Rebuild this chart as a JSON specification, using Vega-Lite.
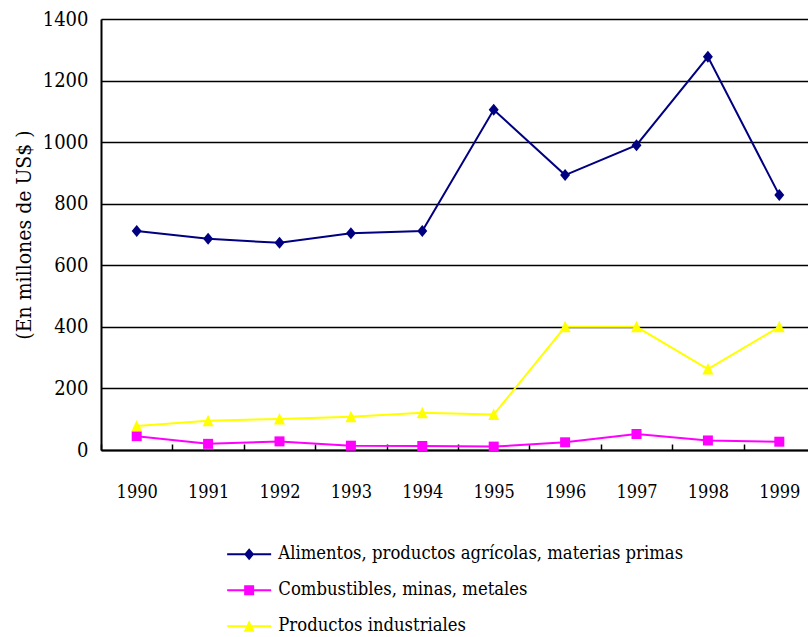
{
  "$schema": "https://vega.github.io/schema/vega-lite/v6.json",
  "width": 707,
  "height": 431,
  "autosize": {"type": "none"},
  "padding": {"left": 101, "top": 19, "right": 0, "bottom": 187},
  "background": "white",
  "config": {"font": "DejaVu Serif Condensed", "view": {"stroke": null}},
  "data": {
    "values": [
      {"year": "1990", "serie": "Alimentos, productos agrícolas, materias primas", "value": 711},
      {"year": "1991", "serie": "Alimentos, productos agrícolas, materias primas", "value": 686},
      {"year": "1992", "serie": "Alimentos, productos agrícolas, materias primas", "value": 673},
      {"year": "1993", "serie": "Alimentos, productos agrícolas, materias primas", "value": 704},
      {"year": "1994", "serie": "Alimentos, productos agrícolas, materias primas", "value": 711},
      {"year": "1995", "serie": "Alimentos, productos agrícolas, materias primas", "value": 1105},
      {"year": "1996", "serie": "Alimentos, productos agrícolas, materias primas", "value": 893},
      {"year": "1997", "serie": "Alimentos, productos agrícolas, materias primas", "value": 990},
      {"year": "1998", "serie": "Alimentos, productos agrícolas, materias primas", "value": 1277},
      {"year": "1999", "serie": "Alimentos, productos agrícolas, materias primas", "value": 828},
      {"year": "1990", "serie": "Combustibles, minas, metales", "value": 45},
      {"year": "1991", "serie": "Combustibles, minas, metales", "value": 20},
      {"year": "1992", "serie": "Combustibles, minas, metales", "value": 28},
      {"year": "1993", "serie": "Combustibles, minas, metales", "value": 14},
      {"year": "1994", "serie": "Combustibles, minas, metales", "value": 13},
      {"year": "1995", "serie": "Combustibles, minas, metales", "value": 11},
      {"year": "1996", "serie": "Combustibles, minas, metales", "value": 25},
      {"year": "1997", "serie": "Combustibles, minas, metales", "value": 52},
      {"year": "1998", "serie": "Combustibles, minas, metales", "value": 31},
      {"year": "1999", "serie": "Combustibles, minas, metales", "value": 27},
      {"year": "1990", "serie": "Productos industriales", "value": 78},
      {"year": "1991", "serie": "Productos industriales", "value": 95},
      {"year": "1992", "serie": "Productos industriales", "value": 101},
      {"year": "1993", "serie": "Productos industriales", "value": 108},
      {"year": "1994", "serie": "Productos industriales", "value": 121},
      {"year": "1995", "serie": "Productos industriales", "value": 115},
      {"year": "1996", "serie": "Productos industriales", "value": 400},
      {"year": "1997", "serie": "Productos industriales", "value": 400},
      {"year": "1998", "serie": "Productos industriales", "value": 263},
      {"year": "1999", "serie": "Productos industriales", "value": 400}
    ]
  },
  "encoding": {
    "x": {
      "field": "year",
      "type": "ordinal",
      "scale": {"type": "band", "range": [0, 714], "paddingInner": 0, "paddingOuter": 0},
      "axis": {
        "title": null,
        "labelAngle": 0,
        "tickBand": "extent",
        "tickSize": -6,
        "tickColor": "black",
        "tickWidth": 1.5,
        "domainColor": "black",
        "domainWidth": 2,
        "labelFont": "DejaVu Serif Condensed",
        "labelFontSize": 18,
        "labelColor": "black",
        "labelBaseline": "alphabetic",
        "labelPadding": 53,
        "grid": false
      }
    },
    "y": {
      "field": "value",
      "type": "quantitative",
      "scale": {"domain": [0, 1400], "nice": false},
      "axis": {
        "title": "(En millones de US$  )",
        "values": [0, 200, 400, 600, 800, 1000, 1200, 1400],
        "format": "d",
        "grid": true,
        "gridColor": "black",
        "gridWidth": 1.3,
        "gridOpacity": 1,
        "domainColor": "black",
        "domainWidth": 2,
        "ticks": false,
        "labelPadding": 13,
        "labelFont": "DejaVu Serif Condensed",
        "labelFontSize": 20,
        "labelColor": "black",
        "titleFont": "DejaVu Serif Condensed",
        "titleFontSize": 21,
        "titleFontWeight": "normal",
        "titleColor": "black",
        "titlePadding": 8
      }
    },
    "color": {
      "field": "serie",
      "type": "nominal",
      "scale": {
        "domain": ["Alimentos, productos agrícolas, materias primas", "Combustibles, minas, metales", "Productos industriales"],
        "range": ["#000080", "#FF00FF", "#FFFF00"]
      },
      "legend": {
        "orient": "none",
        "legendX": 139,
        "legendY": 526,
        "title": null,
        "labelFont": "DejaVu Serif Condensed",
        "labelFontSize": 18.3,
        "labelColor": "black",
        "labelLimit": 0,
        "symbolSize": 100,
        "symbolStrokeWidth": 0,
        "labelOffset": 20,
        "rowPadding": 17,
        "encode": {
          "symbols": {
            "update": {
              "shape": {"signal": "datum.index === 0 ? 'M-4.4,-0.2H4.4V0.2H-4.4ZM0,-1.2L1,0L0,1.2L-1,0Z' : datum.index === 1 ? 'M-4.4,-0.2H4.4V0.2H-4.4ZM-1,-1H1V1H-1Z' : 'M-4.4,-0.2H4.4V0.2H-4.4ZM0,-1.2L1.1,1.1L-1.1,1.1Z'"},
              "fill": {"signal": "datum.index === 0 ? '#000080' : datum.index === 1 ? '#FF00FF' : '#FFFF00'"},
              "opacity": {"value": 1},
              "fillOpacity": {"value": 1}
            }
          }
        }
      }
    }
  },
  "layer": [
    {"mark": {"type": "line", "strokeWidth": 2}},
    {
      "transform": [{"filter": "datum.serie === 'Alimentos, productos agrícolas, materias primas'"}],
      "mark": {"type": "point", "filled": true, "size": 100, "opacity": 1, "shape": "M0,-1.2L1,0L0,1.2L-1,0Z"}
    },
    {
      "transform": [{"filter": "datum.serie === 'Combustibles, minas, metales'"}],
      "mark": {"type": "point", "filled": true, "size": 100, "opacity": 1, "shape": "M-1,-1H1V1H-1Z"}
    },
    {
      "transform": [{"filter": "datum.serie === 'Productos industriales'"}],
      "mark": {"type": "point", "filled": true, "size": 100, "opacity": 1, "shape": "M0,-1.2L1.1,1.1L-1.1,1.1Z"}
    }
  ]
}
